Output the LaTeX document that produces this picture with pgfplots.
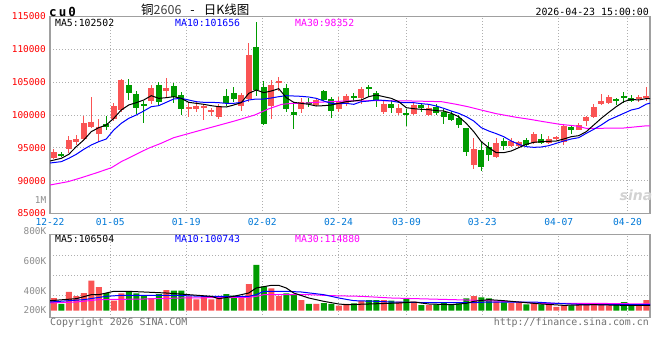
\documentclass[border=0pt]{standalone}
\usepackage{pgfplots}
\pgfplotsset{compat=1.18}
\usepackage{pgfplotstable}
\usepackage{fontspec}
\setmainfont{DejaVu Sans Mono}
\newfontfamily\cjk{Noto Sans CJK SC}
\newfontfamily\sansb{DejaVu Sans}
\definecolor{upc}{RGB}{250,84,84}
\definecolor{dnc}{RGB}{0,155,0}
\definecolor{gridc}{RGB}{175,175,175}
\definecolor{framec}{RGB}{160,160,160}
\definecolor{xlab}{RGB}{0,120,215}
\definecolor{txtgray}{RGB}{140,140,140}
\definecolor{mag}{RGB}{255,0,255}

\pgfplotstableread{
x o h l c
0 93503 94822 93300 94416
2 94822 96751 94163 96193
3 95939 96954 95432 96345
4 96295 99898 96041 98833
5 98223 102741 98071 98934
6 97056 99391 95939 98173
8 99391 101878 99086 101421
9 100761 105482 100508 105330
13 102132 104568 101726 104061
15 103655 105685 102792 104162
18 100964 101929 99645 101269
19 100964 101929 100508 101370
20 101117 101624 99188 101421
21 100457 101015 99898 100761
22 99746 101624 99442 101421
25 101421 103299 100660 103046
26 102436 110964 102030 109137
29 101421 105279 99442 104568
30 104822 105837 103655 105178
33 100914 102538 100355 101929
35 101523 102436 101421 102284
38 100914 102792 100508 101929
39 101777 103198 101421 102893
41 102538 104315 101726 103959
44 100457 102284 100152 101675
46 100305 101624 100000 101015
48 100152 101929 100000 101523
50 100000 101523 99898 101015
56 92386 96447 91777 94822
59 93604 96447 93503 95685
61 95330 96548 95178 96041
62 95279 96041 94924 95838
64 95685 97462 95584 97107
66 95685 96802 95533 96295
67 96345 96853 96142 96650
68 95939 98477 95432 98376
70 97767 98731 97716 98477
71 99086 99848 98376 99746
72 99746 101624 99492 101218
73 101624 103198 101523 102132
74 101827 103046 101726 102792
78 102436 103046 102030 102792
79 102639 104315 102183 102944
}\uptab

\pgfplotstableread{
x o h l c
1 94050 94315 93604 93900
7 98680 99898 97716 98173
10 104568 105482 102284 103401
11 103198 103655 100102 101117
12 101675 102132 98833 101524
14 104568 105076 101523 101929
16 104467 104822 101777 102792
17 103046 103452 100000 100863
23 102893 103959 101421 101777
24 103350 104213 101929 102436
27 110355 114111 102944 103807
28 104315 105178 98477 98579
31 104162 104670 100508 100914
32 100457 102030 97868 100051
34 101929 102639 101269 101624
36 103655 103807 102132 102335
37 102436 102741 99594 100660
40 102893 103299 102132 102690
42 104315 104568 102792 103909
43 103299 103655 101269 102132
45 101624 102284 100305 101117
47 100304 100914 98325 100152
49 101523 101777 100508 101117
51 101269 101624 100000 100355
52 100508 100914 98630 99695
53 100152 100609 99086 99239
54 99594 100000 98071 98477
55 97970 98071 93807 94416
57 94670 95939 91472 92081
58 95076 95939 93046 93909
60 96041 96548 94670 95330
63 96193 96447 95279 95432
65 96345 97158 95533 95685
69 98173 98477 97107 97716
75 102436 102639 101523 102286
76 102893 103452 101777 102743
77 102639 103046 101929 102183
}\dntab

\begin{document}
\begin{tikzpicture}
\useasboundingbox (0,0) rectangle (660pt,360pt);

% ---------------- main price panel ----------------
\begin{axis}[
  at={(50pt,146.5pt)}, anchor=south west,
  width=600pt, height=197pt, scale only axis,
  xmin=-0.5, xmax=79.5, ymin=85000, ymax=115000,
  scaled y ticks=false, scaled x ticks=false,
  axis line style={framec, line width=1.3pt},
  xtick={-0.5,7.54,17.67,27.8,37.97,47.03,57.13,67.33,76.5},
  xticklabels={12-22,01-05,01-19,02-02,02-24,03-09,03-23,04-07,04-20},
  ytick={85000,90000,95000,100000,105000,110000,115000},
  yticklabels={85000,90000,95000,100000,105000,110000,115000},
  grid=major,
  grid style={gridc, dash pattern=on 1pt off 2pt, line width=0.9pt},
  major tick length=0pt, tick style={draw=none},
  xticklabel style={xlab, font=\fontsize{9.6}{10}\selectfont, inner sep=0pt, yshift=-4.5pt},
  yticklabel style={red, font=\fontsize{9.4}{10}\selectfont, inner sep=0pt, xshift=-4pt},
]
% wicks
\addplot[draw=none, mark=none, forget plot,
  error bars/.cd, y dir=both, y explicit, error mark=none,
  error bar style={draw=upc, line width=1pt}]
  table[x=x, y expr=(\thisrow{h}+\thisrow{l})/2, y error expr=(\thisrow{h}-\thisrow{l})/2] {\uptab};
\addplot[draw=none, mark=none, forget plot,
  error bars/.cd, y dir=both, y explicit, error mark=none,
  error bar style={draw=dnc, line width=1pt}]
  table[x=x, y expr=(\thisrow{h}+\thisrow{l})/2, y error expr=(\thisrow{h}-\thisrow{l})/2] {\dntab};
% bodies
\addplot[draw=none, mark=none, forget plot,
  error bars/.cd, y dir=both, y explicit, error mark=none,
  error bar style={draw=upc, line width=5.6pt}]
  table[x=x, y expr=(\thisrow{o}+\thisrow{c})/2, y error expr=abs(\thisrow{c}-\thisrow{o})/2] {\uptab};
\addplot[draw=none, mark=none, forget plot,
  error bars/.cd, y dir=both, y explicit, error mark=none,
  error bar style={draw=dnc, line width=5.6pt}]
  table[x=x, y expr=(\thisrow{o}+\thisrow{c})/2, y error expr=abs(\thisrow{c}-\thisrow{o})/2] {\dntab};
% MA30
\addplot[mag, line width=1pt, mark=none] coordinates {
(-0.5,89340) (1.9,89848) (3.7,90457) (5.9,91269) (7.7,91979) (9,92894) (10.8,93909)
(12.6,94924) (14.3,95685) (16,96548) (19.7,97716) (24.1,99086) (26.8,100000) (28.6,100914)
(30.4,101624) (31.8,101777) (33,101777) (35,101929) (37,102030) (39,102132) (42.8,102183)
(47.8,102132) (51.7,102030) (53.7,101624) (55.2,101269) (56.8,100812) (59,100203)
(61.7,99645) (63.5,99340) (65.3,98985) (67.5,98579) (69.7,98325) (71,97970) (72.4,97970)
(76,98020) (79,98352) (79.5,98352)};
% MA10
\addplot[blue, line width=1pt, mark=none] coordinates {
(-0.5,92690) (1,92894) (2,93401) (3,94010) (4,94772) (5,95432) (6,95939) (7,96345) (8,97716)
(9,98731) (10,99492) (11,100000) (12,100609) (13,101269) (14,101421) (15,101929) (16,102436)
(17,102538) (18,102284) (19,102030) (20,101929) (21,101929) (22,101878) (23,101777) (24,101777)
(25,101929) (26,102284) (27,102436) (28,102436) (29,102589) (30,102792) (31,102944) (32,102893)
(33,102843) (34,102741) (35,102538) (36,102132) (37,101777) (38,101726) (39,101777) (40,101624)
(41,102030) (42,102132) (43,102284) (44,102233) (45,102132) (46,101929) (47,101878) (48,101878)
(49,101726) (50,101624) (51,101370) (52,101015) (53,100609) (54,100254) (55,99746) (56,99086)
(57,98071) (58,97564) (59,97158) (60,96701) (61,96041) (62,95533) (63,95178) (64,95076)
(65,95127) (66,95330) (67,95685) (68,96041) (69,96345) (70,96548) (71,97208) (72,97817)
(73,98477) (74,99239) (75,99746) (76,100254) (77,100761) (78,101015) (79,101656) (79.5,101800)};
% MA5
\addplot[black, line width=1pt, mark=none] coordinates {
(-0.5,92995) (1,93401) (2,94010) (3,95178) (4,96193) (5,97462) (6,98071) (7,98477) (8,99492)
(9,100761) (10,101523) (11,101878) (12,102284) (13,102944) (14,102538) (15,102639) (16,102792)
(17,102538) (18,101929) (19,101777) (20,101624) (21,101421) (22,101269) (23,101218) (24,101523)
(25,101878) (26,103299) (27,103807) (28,103401) (29,103655) (30,104010) (31,102639) (32,101929)
(33,101777) (34,101624) (35,101370) (36,101421) (37,101523) (38,101777) (39,102030) (40,102132)
(41,102284) (42,102792) (43,103046) (44,102792) (45,102538) (46,102030) (47,101117) (48,100964)
(49,100863) (50,100812) (51,100660) (52,100609) (53,100254) (54,99746) (55,98731) (56,97462)
(57,95939) (58,95025) (59,94264) (60,94264) (61,94518) (62,95025) (63,95533) (64,95838)
(65,95939) (66,95990) (67,96041) (68,96345) (69,96701) (70,96853) (71,97462) (72,98477)
(73,99492) (74,100406) (75,101269) (76,102030) (77,102386) (78,102284) (79,102502) (79.5,102502)};
\end{axis}

% ---------------- volume panel ----------------
\begin{axis}[
  at={(50pt,42.3pt)}, anchor=south west,
  width=600pt, height=83.4pt, scale only axis,
  xmin=-0.5, xmax=79.5, ymin=-46.7, ymax=509.3,
  scaled y ticks=false, scaled x ticks=false,
  y filter/.expression={y-268.7},
  axis line style={framec, line width=1.3pt},
  xtick={7.54,17.67,27.8,37.97,47.03,57.13,67.33,76.5},
  xticklabels={},
  ytick={104.6,238,371.3}, yticklabels={},
  grid=major,
  grid style={gridc, dash pattern=on 1pt off 2pt, line width=0.9pt},
  major tick length=0pt, tick style={draw=none},
]
\addplot[ybar, bar width=6pt, bar shift=0pt, fill=upc, draw=none] coordinates {
(0,353.3) (2,393.4) (3,366.7) (4,386.7) (5,468.9) (6,426.7) (8,335.6) (9,384.5) (13,353.3)
(15,406.7) (18,364.5) (19,344.5) (20,366.7) (21,344.5) (22,360.0) (25,364.5) (26,446.7)
(29,417.8) (30,366.7) (33,340.0) (35,313.4) (38,302.3) (39,313.4) (41,333.4) (44,340.0)
(46,329.0) (48,329.0) (50,306.7) (56,366.7) (59,329.0) (61,320.0) (62,320.0) (64,320.0)
(66,306.7) (67,293.4) (68,306.7) (70,320.0) (71,315.6) (72,320.0) (73,311.2) (74,304.5)
(78,304.5) (79,340.0)};
\addplot[ybar, bar width=6pt, bar shift=0pt, fill=dnc, draw=none] coordinates {
(1,313.4) (7,386.7) (10,400.0) (11,384.5) (12,371.2) (14,380.0) (16,402.3) (17,402.3)
(23,380.0) (24,368.9) (27,573.4) (28,431.2) (31,384.5) (32,373.4) (34,313.4) (36,320.0)
(37,313.4) (40,317.8) (42,340.0) (43,340.0) (45,335.6) (47,346.7) (49,306.7) (51,311.2)
(52,326.7) (53,311.2) (54,317.8) (55,351.2) (57,357.8) (58,351.2) (60,324.5) (63,311.2)
(65,311.2) (69,304.5) (75,306.7) (76,326.7) (77,304.5)};
% volume MA30
\addplot[mag, line width=1pt, mark=none] coordinates {
(-0.5,320) (3,326.7) (6,342.3) (12,346.7) (17,353.4) (26,357.8) (27,364.5) (28,375.6)
(34,375.6) (37,369) (41,364.5) (45,353.4) (50,346.7) (55,340.0) (60,331.2) (65,317.8)
(72,317.8) (79.5,313.4)};
% volume MA10
\addplot[blue, line width=1pt, mark=none] coordinates {
(-0.5,326.7) (4,342.3) (7,364.5) (9,371.2) (16,371.2) (20,364.5) (26,364.5) (27,375.6)
(28,397.8) (31,397.8) (33,393.4) (36,375.6) (38,353.4) (40,335.6) (43,331.2) (45,326.7)
(50,322.3) (56,322.3) (58,326.7) (64,326.7) (67,317.8) (71,308.9) (79.5,308.9)};
% volume MA5
\addplot[black, line width=1pt, mark=none] coordinates {
(-0.5,335.6) (3,348.9) (5,375.6) (6,375.6) (8,397.8) (10,397.8) (12,393.4) (15,386.7)
(18,375.6) (21,364.5) (22,348.9) (24,364.5) (26,386.7) (27,420) (29,437.8) (30,437.8)
(31,420) (32,386.7) (34,353.4) (36,331.2) (38,313.4) (39,308.9) (42,313.4) (46,320)
(48,326.7) (50,313.4) (53,308.9) (55,317.8) (56,331.2) (58,342.3) (60,335.6) (62,326.7)
(65,313.4) (68,304.5) (72,308.9) (76,304.5) (79.5,304.5)};
\end{axis}

% ---------------- texts ----------------
\begin{scope}[every node/.style={inner sep=0pt}]
\node[anchor=west, font=\fontsize{12.5}{12.5}\selectfont\bfseries] at (49pt,348pt) {c\,u\,0};
\node[anchor=west, font=\cjk\fontsize{12.5}{12.5}\selectfont] at (141pt,350pt) {铜\textcolor{darkgray}{2606}\hspace{9pt}-\hspace{9pt}日K线图};
\node[anchor=east, font=\fontsize{9.9}{10}\selectfont] at (649pt,348pt) {2026-04-23 15:00:00};
\node[anchor=west, font=\fontsize{9.8}{10}\selectfont] at (55pt,337pt) {MA5:102502};
\node[anchor=west, font=\fontsize{9.8}{10}\selectfont, text=blue] at (175pt,337pt) {MA10:101656};
\node[anchor=west, font=\fontsize{9.8}{10}\selectfont, text=mag] at (295pt,337pt) {MA30:98352};
\node[anchor=east, font=\fontsize{9.4}{10}\selectfont, text=txtgray] at (46.5pt,160pt) {1M};
\node[anchor=east, font=\fontsize{9.4}{10}\selectfont, text=txtgray] at (46.5pt,129pt) {800K};
\node[anchor=east, font=\fontsize{9.4}{10}\selectfont, text=txtgray] at (46.5pt,99pt) {600K};
\node[anchor=east, font=\fontsize{9.4}{10}\selectfont, text=txtgray] at (46.5pt,69pt) {400K};
\node[anchor=east, font=\fontsize{9.4}{10}\selectfont, text=txtgray] at (46.5pt,50pt) {200K};
\node[anchor=west, font=\fontsize{9.8}{10}\selectfont] at (55pt,121.5pt) {MA5:106504};
\node[anchor=west, font=\fontsize{9.8}{10}\selectfont, text=blue] at (175pt,121.5pt) {MA10:100743};
\node[anchor=west, font=\fontsize{9.8}{10}\selectfont, text=mag] at (295pt,121.5pt) {MA30:114880};
\node[anchor=west, font=\fontsize{9.9}{10}\selectfont, text=txtgray!80!black] at (50pt,37pt) {Copyright 2026 SINA.COM};
\node[anchor=east, font=\fontsize{9.9}{10}\selectfont, text=txtgray!80!black] at (649pt,37pt) {http://finance.sina.com.cn};
\node[anchor=center, font=\sansb\fontsize{14}{14}\selectfont\bfseries\itshape, text=gray!35] at (636pt,165pt) {sina};
\end{scope}
\end{tikzpicture}
\end{document}
